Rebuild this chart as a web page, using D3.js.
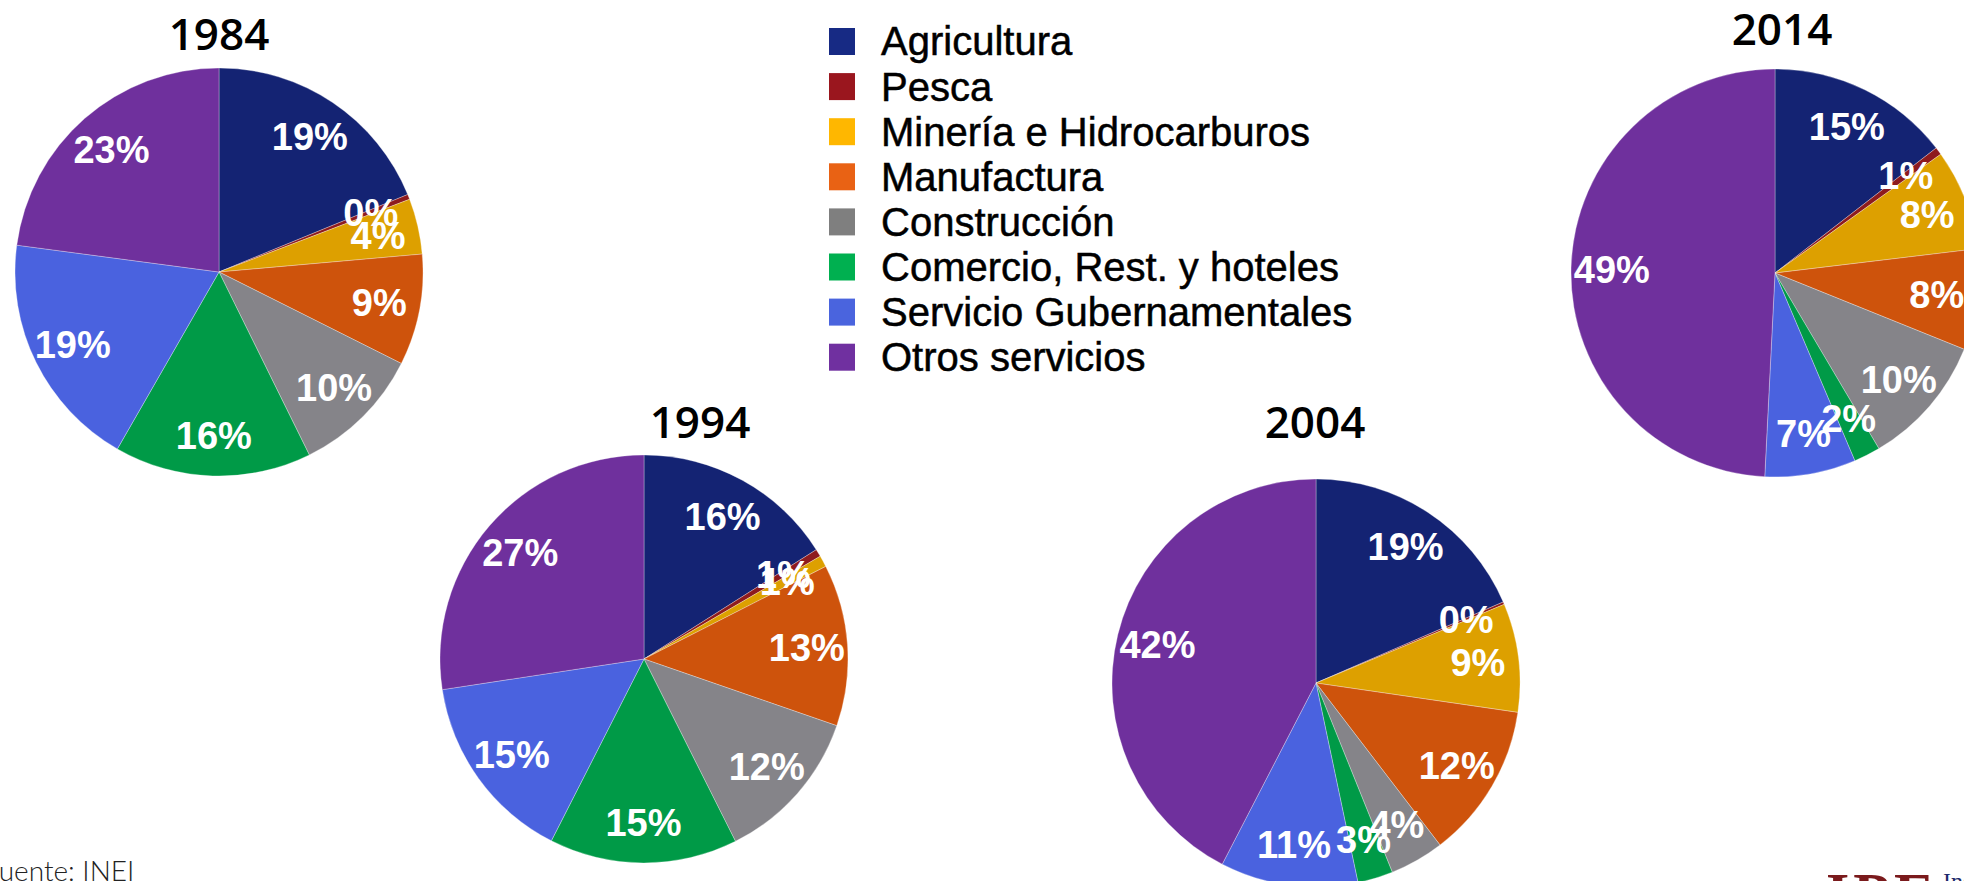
<!DOCTYPE html>
<html>
<head>
<meta charset="utf-8">
<script src="https://cdn.jsdelivr.net/npm/d3@7"></script>
<style>
  html, body { margin: 0; padding: 0; background: #fff; overflow: hidden; }
  svg { display: block; }
</style>
</head>
<body>
<svg id="chart" width="1964" height="881"></svg>
<script>
// sectores y participaciones (%) por año
const sectors = ['Agricultura', 'Pesca', 'Minería e Hidrocarburos', 'Manufactura',
  'Construcción', 'Comercio, Rest. y hoteles', 'Servicio Gubernamentales', 'Otros servicios']
const years = ['1984', '1994', '2004', '2014']
const share1984 = [18.8, 0.4, 4.4, 8.8, 10.3, 15.6, 18.8, 22.9]
const share1994 = [16.0, 0.6, 0.9, 12.8, 12.3, 14.9, 15.1, 27.4]
const share2004 = [18.5, 0.2, 8.6, 12.3, 4.3, 2.8, 10.9, 42.4]
const share2014 = [14.5, 0.6, 8.0, 8.0, 10.4, 2.1, 7.2, 49.2]

const sliceColors = ['#142373', '#8e1b1e', '#dda000', '#ce530c', '#858489', '#009a47', '#4a62df', '#6f309d']
const legendColors = ['#172a84', '#9a161e', '#ffb700', '#e96214', '#7f7f7f', '#00b050', '#4a64de', '#7030a0']

const svg = d3.select('#chart')

// posiciones de cada torta
const layout = [
  { year: '1984', data: share1984, cx: 219, cy: 272, tx: 219, ty: 50 },
  { year: '1994', data: share1994, cx: 644, cy: 659, tx: 700, ty: 438 },
  { year: '2004', data: share2004, cx: 1316, cy: 683, tx: 1315, ty: 438 },
  { year: '2014', data: share2014, cx: 1775, cy: 273, tx: 1782, ty: 45 }
]
const radius = 204

const color = d3.scaleOrdinal().domain(sectors).range(sliceColors)
const pie = d3.pie().sort(null).value(d => d.value)
const arc = d3.arc().innerRadius(0).outerRadius(radius)
const labelArc = d3.arc().innerRadius(radius * 0.8).outerRadius(radius * 0.8)

layout.forEach(p => {
  const rows = sectors.map((s, i) => ({ sector: s, value: p.data[i] }))
  const g = svg.append('g').attr('transform', `translate(${p.cx},${p.cy})`)

  g.selectAll('path')
    .data(pie(rows))
    .join('path')
    .attr('d', arc)
    .attr('fill', d => color(d.data.sector))
    .attr('stroke', '#fff')
    .attr('stroke-width', 0.6)
    .attr('stroke-opacity', 0.5)

  g.selectAll('text')
    .data(pie(rows))
    .join('text')
    .attr('transform', d => `translate(${labelArc.centroid(d)})`)
    .attr('text-anchor', 'middle')
    .attr('dy', '0.36em')
    .attr('fill', '#fff')
    .attr('font-family', 'Liberation Sans, Arial, sans-serif')
    .attr('font-weight', 'bold')
    .attr('font-size', 38)
    .text(d => Math.round(d.data.value) + '%')

  svg.append('text')
    .attr('x', p.tx)
    .attr('y', p.ty)
    .attr('text-anchor', 'middle')
    .attr('font-family', 'Open Sans, Noto Sans, sans-serif')
    .attr('font-weight', 600)
    .attr('font-size', 44)
    .attr('fill', '#000')
    .text(p.year)
})

// leyenda
const legend = svg.append('g').attr('transform', 'translate(829, 41)')
const item = legend.selectAll('g')
  .data(sectors)
  .join('g')
  .attr('transform', (d, i) => `translate(0, ${i * 45.1})`)

item.append('rect')
  .attr('x', 0)
  .attr('y', -13)
  .attr('width', 26)
  .attr('height', 27)
  .attr('fill', (d, i) => legendColors[i])

item.append('text')
  .attr('x', 52)
  .attr('y', 0)
  .attr('dy', '0.36em')
  .attr('font-family', 'Liberation Sans, Arial, sans-serif')
  .attr('font-size', 40)
  .attr('fill', '#000')
  .attr('stroke', '#000')
  .attr('stroke-width', 0.5)
  .text(d => d)

// fuente y logo (cortados por el borde)
svg.append('text')
  .attr('x', -16)
  .attr('y', 881)
  .attr('font-family', 'Lato, sans-serif')
  .attr('font-weight', 300)
  .attr('font-size', 28)
  .attr('fill', '#222')
  .text('Fuente: INEI')

svg.append('text')
  .attr('x', 1826)
  .attr('y', 914)
  .attr('font-family', 'Liberation Serif, serif')
  .attr('font-weight', 'bold')
  .attr('font-size', 60)
  .attr('letter-spacing', 4)
  .attr('fill', '#7a1a1c')
  .text('IPE')

svg.append('text')
  .attr('x', 1943)
  .attr('y', 889)
  .attr('font-family', 'Liberation Serif, serif')
  .attr('font-size', 24)
  .attr('fill', '#1b2a6b')
  .text('Instituto')
</script>
</body>
</html>
